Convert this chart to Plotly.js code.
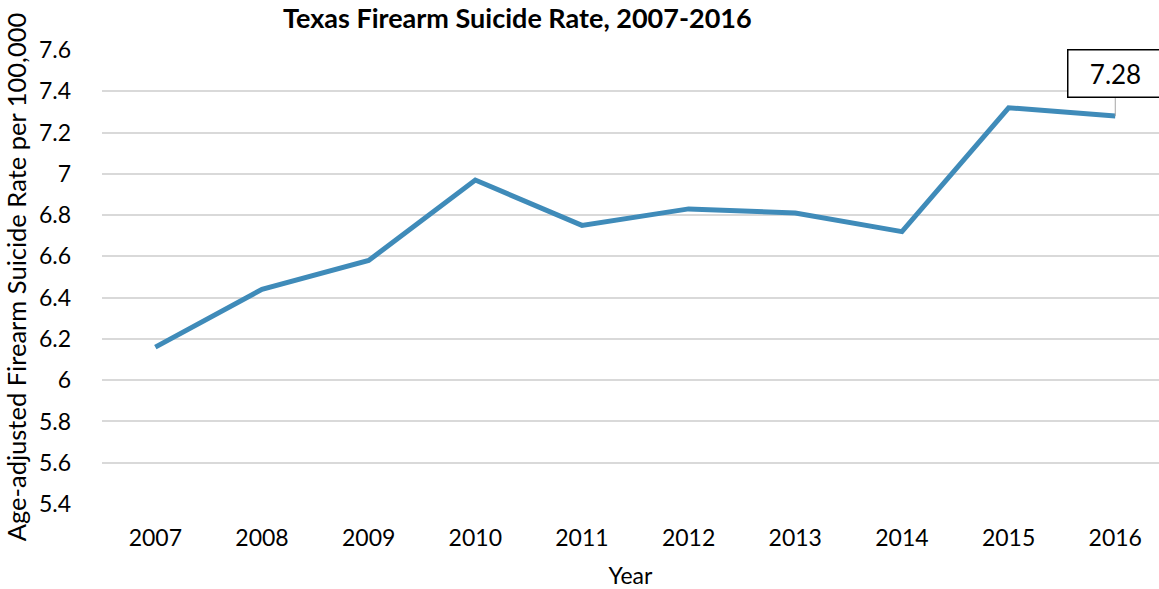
<!DOCTYPE html>
<html>
<head>
<meta charset="utf-8">
<script src="https://cdn.plot.ly/plotly-3.0.1.min.js"></script>
<style>html,body{margin:0;padding:0;background:#fff;}#chart{width:1159px;height:589px;}</style>
</head>
<body>
<div id="chart"></div>
<script>
const years = ['2007','2008','2009','2010','2011','2012','2013','2014','2015','2016'];
const rates = [6.16, 6.44, 6.58, 6.97, 6.75, 6.83, 6.81, 6.72, 7.32, 7.28];
const yTicks = [5.4, 5.6, 5.8, 6, 6.2, 6.4, 6.6, 6.8, 7, 7.2, 7.4, 7.6];
const yTickText = ['5.4','5.6','5.8','6','6.2','6.4','6.6','6.8','7','7.2','7.4','7.6'];
const labelIndex = 9;
const chartTitle = '<b>Texas Firearm Suicide Rate, 2007-2016</b>';

const font = 'Lato, Calibri, Carlito, "Open Sans", sans-serif';

const trace = {
  x: years, y: rates, type: 'scatter', mode: 'lines',
  line: {color: '#3f8bb9', width: 5},
  hoverinfo: 'skip'
};

const layout = {
  width: 1159, height: 589,
  margin: {l: 102, r: 0, t: 50, b: 85},
  paper_bgcolor: '#fff', plot_bgcolor: '#fff',
  showlegend: false,
  xaxis: {
    type: 'category', range: [-0.5, 9.41],
    showgrid: false, zeroline: false, showline: false, ticks: '',
    ticklabelstandoff: 18,
    tickfont: {family: font, size: 23, color: '#000'},
    title: {text: 'Year', font: {family: font, size: 23, color: '#000'}, standoff: 18}
  },
  yaxis: {
    range: [5.4, 7.6], tickvals: yTicks, ticktext: yTickText,
    showgrid: true, gridcolor: '#d9d9d9', gridwidth: 2,
    zeroline: false, showline: false, ticks: '',
    ticklabelstandoff: 30,
    tickfont: {family: font, size: 23, color: '#000'},
    title: {text: 'Age-adjusted Firearm Suicide Rate per 100,000', font: {family: font, size: 25.5, color: '#000'}, standoff: 4}
  },
  annotations: [{
    x: (517 - 102) / 1057, y: (504 + 1) / 454, xref: 'paper', yref: 'paper',
    text: chartTitle, showarrow: false, xanchor: 'center', yanchor: 'top',
    font: {family: font, size: 27, color: '#000'}
  }, {
    x: labelIndex, y: rates[labelIndex], xref: 'x', yref: 'y',
    text: rates[labelIndex].toFixed(2),
    showarrow: true, arrowhead: 0, arrowwidth: 1, arrowcolor: '#a6a6a6',
    ax: 0, ay: -18, yanchor: 'bottom', xanchor: 'center',
    bordercolor: '#000', borderwidth: 1.5, bgcolor: '#fff',
    borderpad: 0,
    width: 94, height: 46,
    font: {family: font, size: 26, color: '#000'}
  }]
};

Plotly.newPlot('chart', [trace], layout, {displayModeBar: false, staticPlot: true});
</script>
</body>
</html>
